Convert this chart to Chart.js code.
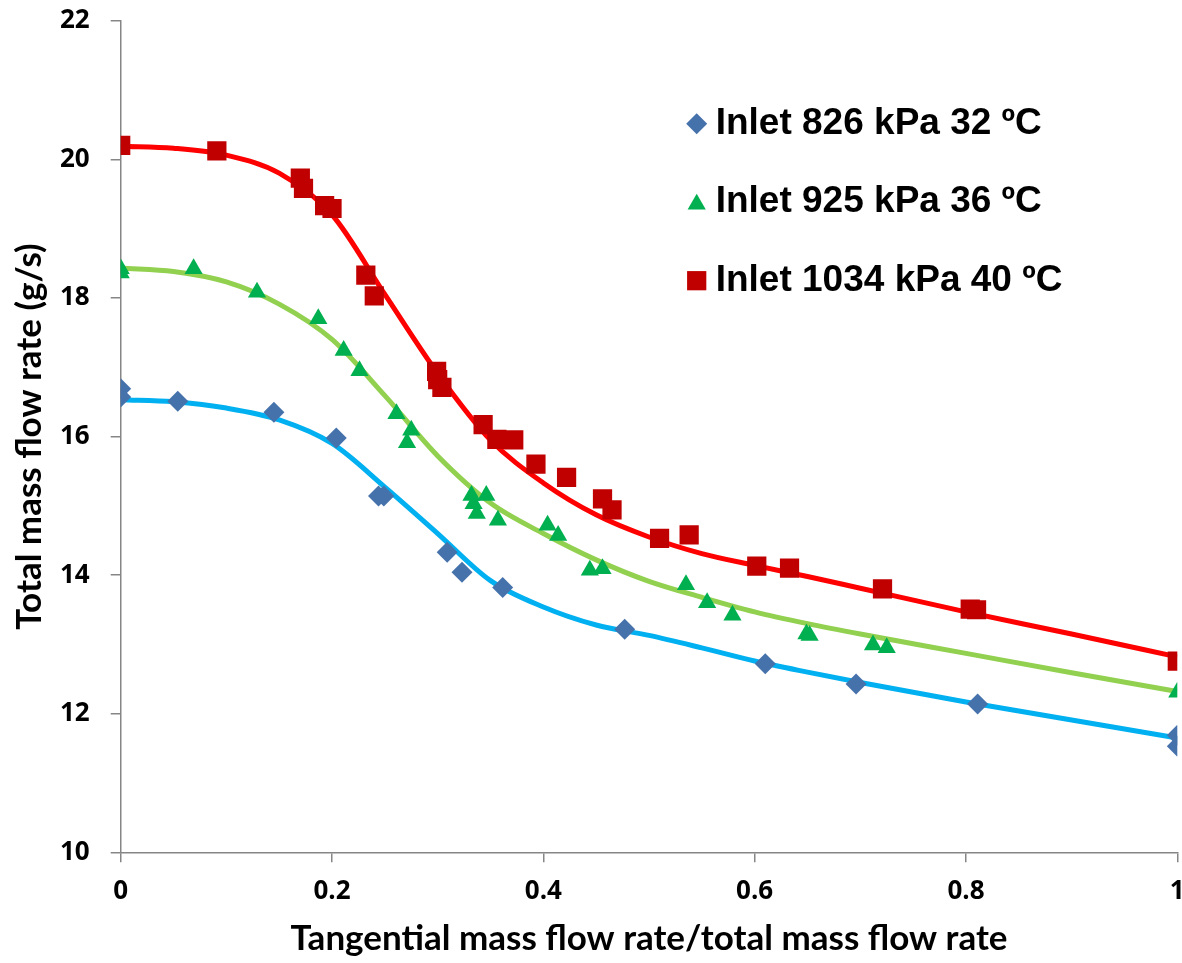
<!DOCTYPE html>
<html>
<head>
<meta charset="utf-8">
<script src="https://cdn.jsdelivr.net/npm/chart.js@4.4.0/dist/chart.umd.min.js"></script>
<style>
  html, body { margin: 0; padding: 0; background: #fff; overflow: hidden; }
  canvas { display: block; }
</style>
</head>
<body>
<canvas id="massChart" width="1200" height="963"></canvas>
<script>
// axis ticks
const xTicks = [0, 0.2, 0.4, 0.6, 0.8, 1];
const yTicks = [10, 12, 14, 16, 18, 20, 22];

const seriesLabels = ['Inlet 826 kPa 32 \u00BAC', 'Inlet 925 kPa 36 \u00BAC', 'Inlet 1034 kPa 40 \u00BAC'];

// measured points, 826 kPa
const x826 = [0, 0, 0.054, 0.145, 0.204, 0.244, 0.249, 0.309, 0.323, 0.3615, 0.477, 0.610, 0.696, 0.811, 1, 1];
const y826 = [16.69, 16.57, 16.51, 16.35, 15.98, 15.14, 15.14, 14.33, 14.04, 13.82, 13.22, 12.72, 12.43, 12.14, 11.69, 11.53];

// measured points, 925 kPa
const x925 = [0, 0, 0.069, 0.129, 0.187, 0.211, 0.226, 0.261, 0.275, 0.271, 0.332, 0.334, 0.337, 0.346, 0.357, 0.404, 0.414, 0.444, 0.456, 0.535, 0.555, 0.579, 0.649, 0.652, 0.712, 0.725, 1];
const y925 = [18.42, 18.36, 18.42, 18.08, 17.70, 17.24, 16.95, 16.33, 16.09, 15.91, 15.15, 15.03, 14.89, 15.15, 14.79, 14.72, 14.57, 14.07, 14.09, 13.86, 13.60, 13.42, 13.15, 13.13, 12.99, 12.95, 12.31];

// measured points, 1034 kPa
const x1034 = [0, 0.091, 0.170, 0.173, 0.193, 0.200, 0.232, 0.240, 0.299, 0.300, 0.304, 0.343, 0.356, 0.372, 0.393, 0.422, 0.456, 0.465, 0.510, 0.538, 0.602, 0.633, 0.721, 0.804, 0.810, 1];
const y1034 = [20.20, 20.12, 19.73, 19.58, 19.33, 19.29, 18.33, 18.03, 16.94, 16.82, 16.71, 16.17, 15.96, 15.95, 15.60, 15.41, 15.10, 14.94, 14.53, 14.58, 14.13, 14.10, 13.80, 13.51, 13.50, 12.76];

// fitted curves
const fitX = [0, 0.05, 0.1, 0.15, 0.2, 0.25, 0.3, 0.35, 0.4, 0.45, 0.5, 0.55, 0.6, 0.65, 0.7, 0.8, 0.9, 1];
const fit826 = [16.53, 16.50, 16.41, 16.24, 15.90, 15.27, 14.60, 13.92, 13.54, 13.28, 13.13, 12.95, 12.76, 12.60, 12.45, 12.17, 11.91, 11.65];
const fit925 = [18.43, 18.38, 18.23, 17.91, 17.40, 16.59, 15.72, 15.04, 14.60, 14.22, 13.91, 13.68, 13.47, 13.30, 13.15, 12.87, 12.59, 12.32];
const fit1034 = [20.19, 20.16, 20.06, 19.80, 19.20, 18.05, 16.91, 15.95, 15.33, 14.87, 14.55, 14.31, 14.14, 13.98, 13.81, 13.47, 13.15, 12.82];

const toPts = (xs, ys) => xs.map((x, i) => ({ x: x, y: ys[i] }));

const AXIS_GRAY = '#868686';
const tickFont = { family: '"Open Sans"', weight: 'bold', size: 26 };
const titleFont = { family: 'Lato', weight: 'bold', size: 35 };

function markerSet(label, xs, ys, style, color, radius) {
    return {
        type: 'scatter',
        label: label,
        data: toPts(xs, ys),
        pointStyle: style,
        pointRadius: radius,
        pointBackgroundColor: color,
        pointBorderColor: color,
        pointBorderWidth: 0,
        showLine: false,
        order: 0,
    };
}

function curveSet(ys, color) {
    return {
        type: 'line',
        label: '',
        data: toPts(fitX, ys),
        borderColor: color,
        borderWidth: 5,
        pointRadius: 0,
        fill: false,
        cubicInterpolationMode: 'monotone',
        order: 1,
        isCurve: true,
    };
}

// legend drawn inside the plot, top right
const inlineLegend = {
    id: 'inlineLegend',
    afterDatasetsDraw(chart) {
        const ctx = chart.ctx;
        const area = chart.chartArea;
        const mx = area.left + 576;
        const tx = area.left + 595;
        const y0 = area.top + 103;
        const gap = 78.5;
        let row = 0;
        chart.data.datasets.forEach(ds => {
            if (ds.isCurve) return;
            const y = y0 + row * gap;
            ctx.save();
            ctx.fillStyle = ds.pointBackgroundColor;
            ctx.strokeStyle = ds.pointBorderColor;
            Chart.helpers.drawPoint(ctx, { pointStyle: ds.pointStyle, radius: ds.pointRadius, borderWidth: 0 }, mx, ds.pointStyle === 'triangle' ? y + 2 : y);
            ctx.fillStyle = '#000';
            ctx.font = 'bold 37px "Liberation Sans", Arial, sans-serif';
            ctx.textAlign = 'left';
            ctx.textBaseline = 'middle';
            ctx.fillText(ds.label, tx, y);
            ctx.restore();
            row++;
        });
    },
};

new Chart(document.getElementById('massChart'), {
    type: 'scatter',
    data: {
        datasets: [
            markerSet(seriesLabels[0], x826, y826, 'rectRot', '#4672AC', 10.5),
            markerSet(seriesLabels[1], x925, y925, 'triangle', '#00B050', 10.5),
            markerSet(seriesLabels[2], x1034, y1034, 'rect', '#C00000', 13.6),
            curveSet(fit826, '#00B0F0'),
            curveSet(fit925, '#92D050'),
            curveSet(fit1034, '#FF0000'),
        ],
    },
    options: {
        responsive: false,
        animation: false,
        layout: { padding: 0 },
        plugins: {
            legend: { display: false },
            tooltip: { enabled: false },
        },
        scales: {
            x: {
                type: 'linear',
                min: 0,
                max: 1,
                afterBuildTicks: s => { s.ticks = xTicks.map(v => ({ value: v })); },
                afterFit: s => { s.height = 110.7; s.paddingRight = 22.7; },
                grid: { display: true, drawOnChartArea: false, drawTicks: true, tickLength: 10, color: AXIS_GRAY, lineWidth: 1.5 },
                border: { display: true, color: AXIS_GRAY, width: 1.5 },
                ticks: { color: '#000', font: tickFont, padding: 14, maxRotation: 0, callback: v => String(Math.round(v * 10) / 10) },
                title: { display: true, text: 'Tangential mass flow rate/total mass flow rate', color: '#000', font: titleFont, padding: { top: 0, bottom: 3 } },
            },
            y: {
                type: 'linear',
                min: 10,
                max: 22,
                afterBuildTicks: s => { s.ticks = yTicks.map(v => ({ value: v })); },
                afterFit: s => { s.width = 120.7; s.paddingTop = 20.7; s.paddingBottom = 0; },
                grid: { display: true, drawOnChartArea: false, drawTicks: true, tickLength: 10, color: AXIS_GRAY, lineWidth: 1.5 },
                border: { display: true, color: AXIS_GRAY, width: 1.5 },
                ticks: { color: '#000', font: tickFont, padding: 21 },
                title: { display: true, text: 'Total mass flow rate (g/s)', color: '#000', font: titleFont, padding: { top: 9, bottom: 0 } },
            },
        },
    },
    plugins: [inlineLegend],
});
</script>
</body>
</html>
